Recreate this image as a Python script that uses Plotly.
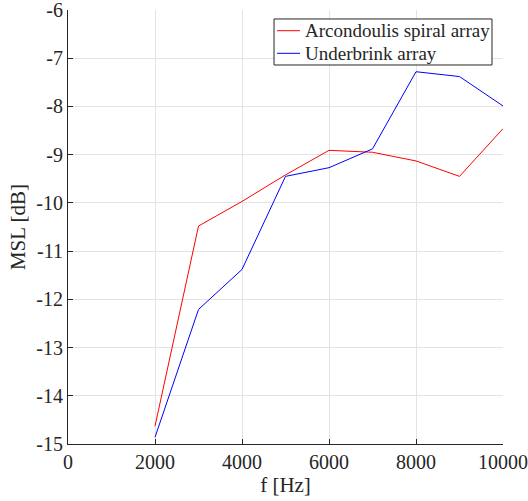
import plotly.graph_objects as go

freq = [2000, 3000, 4000, 5000, 6000, 7000, 8000, 9000, 10000]
arcondoulis = [-14.63, -10.48, -9.97, -9.42, -8.91, -8.95, -9.13, -9.45, -8.46]
underbrink = [-14.86, -12.21, -11.38, -9.45, -9.27, -8.88, -7.28, -7.38, -7.99]
series_names = ["Arcondoulis spiral array", "Underbrink array"]
series_colors = ["#ff0000", "#0000ff"]

x_ticks = [0, 2000, 4000, 6000, 8000, 10000]
x_ticktext = ["0", "2000", "4000", "6000", "8000", "10000"]
y_ticks = [-15, -14, -13, -12, -11, -10, -9, -8, -7, -6]
y_ticktext = ["-15", "-14", "-13", "-12", "-11", "-10", "-9", "-8", "-7", "-6"]

font_family = "Liberation Serif"
ink = "#262626"

fig = go.Figure()
for name, vals, col in zip(series_names, [arcondoulis, underbrink], series_colors):
    fig.add_trace(go.Scatter(x=freq, y=vals, mode="lines",
                             line=dict(color=col, width=1),
                             name=name, showlegend=False))

axis_common = dict(
    showgrid=True, gridcolor="#e3e3e3", gridwidth=1,
    showline=True, linecolor=ink, linewidth=1,
    ticks="inside", ticklen=5, tickcolor=ink,
    zeroline=False, mirror=False, automargin=False,
    ticklabeloverflow="allow",
    tickfont=dict(family=font_family, size=20, color=ink),
)

fig.update_xaxes(range=[0, 10000], tickvals=x_ticks, ticktext=x_ticktext,
                 title=dict(text="f [Hz]", font=dict(family=font_family, size=21, color=ink),
                            standoff=2),
                 **axis_common)
fig.update_yaxes(range=[-15, -6], tickvals=y_ticks, ticktext=y_ticktext,
                 title=dict(text="MSL [dB]", font=dict(family=font_family, size=21, color=ink),
                            standoff=4),
                 **axis_common)

# Legend box (drawn in paper coordinates, MATLAB style)
box = dict(x0=0.4736, x1=0.9747, y0=0.8733, y1=0.9793)
fig.add_shape(type="rect", xref="paper", yref="paper", **box,
              line=dict(color=ink, width=1), fillcolor="white", layer="above")
row_y = [0.9523, 0.9002]
for name, col, yy in zip(series_names, series_colors, row_y):
    fig.add_shape(type="line", xref="paper", yref="paper",
                  x0=0.4805, x1=0.5333, y0=yy, y1=yy,
                  line=dict(color=col, width=1), layer="above")
    fig.add_annotation(xref="paper", yref="paper", x=0.5402, y=yy,
                       xanchor="left", yanchor="middle", showarrow=False,
                       text=name, font=dict(family=font_family, size=19, color=ink))

fig.update_layout(
    width=528, height=501,
    margin=dict(l=68, r=25, t=10, b=57),
    plot_bgcolor="white", paper_bgcolor="white",
    font=dict(family=font_family),
    showlegend=False,
)

fig.write_html("out.html")
